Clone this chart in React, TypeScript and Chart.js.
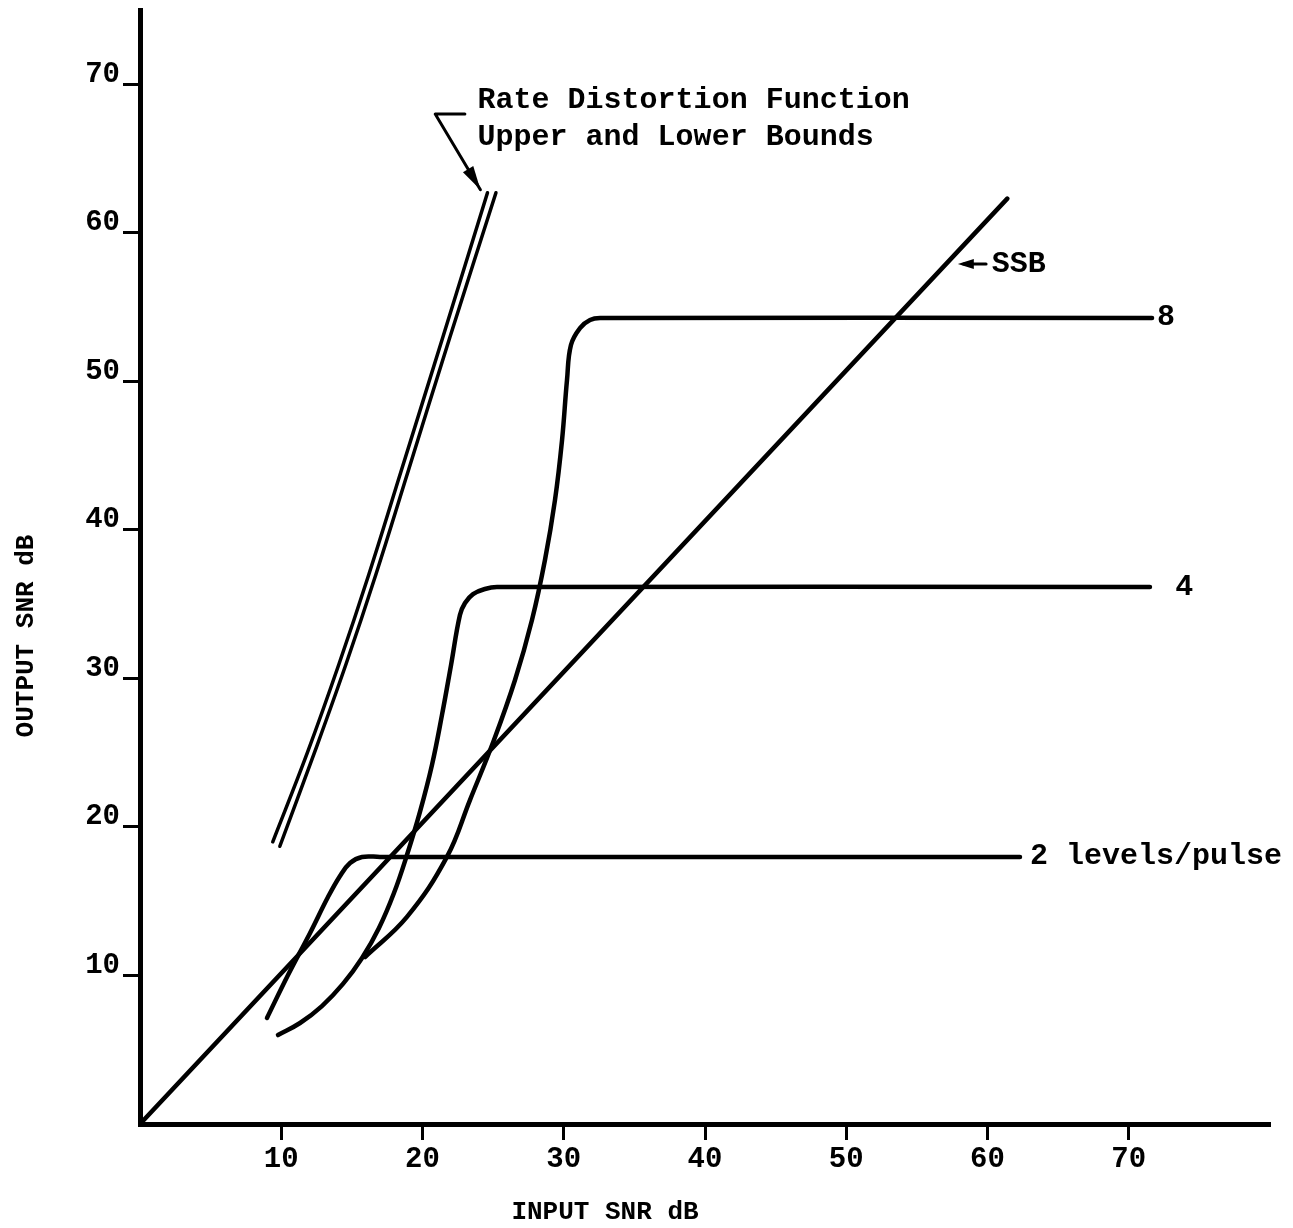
import React, { useEffect, useRef } from "react";
import { Chart, registerables } from "chart.js";

Chart.register(...registerables);

// ---------- axis ranges and ticks ----------
const X_MIN = 0;
const X_MAX = 80;
const Y_MIN = 0;
const Y_MAX = 75;
const xTickValues = [10, 20, 30, 40, 50, 60, 70];
const yTickValues = [10, 20, 30, 40, 50, 60, 70];

const xTitle = "INPUT SNR dB";
const yTitle = "OUTPUT SNR dB";

// ---------- series (input SNR dB -> output SNR dB) ----------
const ssbX = [0, 61.4];
const ssbY = [0, 62.3];

const rdUpperX = [9.4, 11.85, 14.1, 16.2, 18.5, 21.45, 24.6];
const rdUpperY = [19.0, 25.0, 31.0, 37.0, 44.0, 53.0, 62.7];

const rdLowerX = [9.9, 12.35, 14.6, 16.7, 19.0, 21.95, 25.2];
const rdLowerY = [18.7, 25.0, 31.0, 37.0, 44.0, 53.0, 62.7];

const lvl2X = [8.99, 10.48, 12.04, 13.31, 14.16, 14.87, 15.72, 16.99, 62.3];
const lvl2Y = [7.14, 10.03, 12.86, 15.28, 16.7, 17.57, 17.98, 17.98, 17.98];

const lvl4X = [9.77, 11.33, 12.88, 14.37, 15.72, 16.92, 17.98, 18.9, 19.82, 20.67, 21.38, 22.02, 22.65, 23.01, 23.58, 24.42, 25.27, 71.5];
const lvl4Y = [5.99, 6.8, 7.94, 9.43, 11.18, 13.2, 15.55, 18.11, 21.01, 24.17, 27.54, 30.9, 34.27, 35.08, 35.68, 36.02, 36.15, 36.15];

const lvl8X = [15.93, 18.9, 21.73, 23.36, 25.06, 26.55, 27.75, 28.67, 29.38, 29.88, 30.23, 30.51, 31.15, 31.86, 32.57, 71.65];
const lvl8Y = [11.24, 13.94, 17.98, 21.81, 25.85, 29.89, 33.93, 37.97, 42.01, 46.05, 50.09, 52.45, 53.59, 54.13, 54.26, 54.26];

// ---------- annotation texts ----------
const rdNote = ["Rate Distortion Function", "Upper and Lower Bounds"];
const ssbNote = "SSB";
const curveLabels = ["8", "4", "2 levels/pulse"];

const pts = (xs: number[], ys: number[]) => xs.map((x, i) => ({ x, y: ys[i] }));

const FONT = '"Liberation Mono", "Courier New", monospace';

function arrowHead(ctx: CanvasRenderingContext2D, tx: number, ty: number, fx: number, fy: number, len: number, hw: number) {
  const a = Math.atan2(ty - fy, tx - fx);
  const bx = tx - len * Math.cos(a);
  const by = ty - len * Math.sin(a);
  ctx.beginPath();
  ctx.moveTo(tx, ty);
  ctx.lineTo(bx + hw * Math.sin(a), by - hw * Math.cos(a));
  ctx.lineTo(bx - hw * Math.sin(a), by + hw * Math.cos(a));
  ctx.closePath();
  ctx.fill();
}

const annotationPlugin = {
  id: "annotations",
  afterDraw(chart: any) {
    const ctx: CanvasRenderingContext2D = chart.ctx;
    const xs = chart.scales.x;
    const ys = chart.scales.y;
    const px = (v: number) => xs.getPixelForValue(v);
    const py = (v: number) => ys.getPixelForValue(v);
    ctx.save();
    ctx.fillStyle = "#000";
    ctx.strokeStyle = "#000";
    ctx.lineCap = "round";
    ctx.lineJoin = "round";

    // Rate distortion note + leader arrow
    ctx.font = `bold 30px ${FONT}`;
    ctx.textAlign = "left";
    ctx.textBaseline = "middle";
    ctx.fillText(rdNote[0], px(23.9), py(68.9));
    ctx.fillText(rdNote[1], px(23.9), py(66.45));
    ctx.lineWidth = 3;
    ctx.beginPath();
    ctx.moveTo(px(23.0), py(68.0));
    ctx.lineTo(px(20.9), py(68.0));
    ctx.lineTo(px(24.1), py(62.9));
    ctx.stroke();
    arrowHead(ctx, px(24.1), py(62.9), px(20.9), py(68.0), 24, 6);

    // SSB note + arrow
    ctx.beginPath();
    ctx.moveTo(px(59.9), py(57.9));
    ctx.lineTo(px(58.3), py(57.9));
    ctx.stroke();
    arrowHead(ctx, px(57.9), py(57.9), px(59.9), py(57.9), 16, 5);
    ctx.fillText(ssbNote, px(60.3), py(57.9));

    // curve labels
    ctx.fillText(curveLabels[0], px(72.0), py(54.3));
    ctx.fillText(curveLabels[1], px(73.3), py(36.1));
    ctx.fillText(curveLabels[2], px(63.0), py(18.0));

    // axis titles
    ctx.font = `bold 26px ${FONT}`;
    ctx.textAlign = "center";
    ctx.fillText(xTitle, 605, 1212);
    ctx.save();
    ctx.translate(26, 636);
    ctx.rotate(-Math.PI / 2);
    ctx.fillText(yTitle, 0, 0);
    ctx.restore();

    ctx.restore();
  },
};

export default function App() {
  const ref = useRef<HTMLCanvasElement>(null);
  useEffect(() => {
    if (!ref.current) return;
    const curve = (data: { x: number; y: number }[], width: number, tension: number) => ({
      data,
      borderColor: "#000",
      backgroundColor: "#000",
      borderWidth: width,
      pointRadius: 0,
      fill: false,
      cubicInterpolationMode: "default" as const,
      tension,
      borderCapStyle: "round" as const,
      borderJoinStyle: "round" as const,
    });
    const chart = new Chart(ref.current, {
      type: "line",
      data: {
        datasets: [
          { label: "SSB", ...curve(pts(ssbX, ssbY), 4.5, 0) },
          { label: "RD upper", ...curve(pts(rdUpperX, rdUpperY), 3.5, 0.4) },
          { label: "RD lower", ...curve(pts(rdLowerX, rdLowerY), 3.5, 0.4) },
          { label: "2 levels/pulse", ...curve(pts(lvl2X, lvl2Y), 4.5, 0.4) },
          { label: "4", ...curve(pts(lvl4X, lvl4Y), 4.5, 0.4) },
          { label: "8", ...curve(pts(lvl8X, lvl8Y), 4.5, 0.4) },
        ],
      },
      options: {
        animation: false,
        responsive: false,
        devicePixelRatio: 1,
        layout: { padding: { left: 0, top: 10, right: 23, bottom: 0 } },
        plugins: { legend: { display: false }, tooltip: { enabled: false } },
        scales: {
          x: {
            type: "linear",
            min: X_MIN,
            max: X_MAX,
            afterBuildTicks: (s: any) => {
              s.ticks = xTickValues.map((v) => ({ value: v }));
            },
            afterFit: (s: any) => {
              s.height = 104;
              s.paddingLeft = 0;
              s.paddingRight = 0;
            },
            border: { display: true, color: "#000", width: 5 },
            grid: { drawOnChartArea: false, drawTicks: true, tickLength: 16, tickWidth: 3, color: "#000" },
            ticks: {
              color: "#000",
              font: { family: FONT, size: 29, weight: "bold" },
              padding: 2,
              maxRotation: 0,
              autoSkip: false,
            },
          },
          y: {
            type: "linear",
            min: Y_MIN,
            max: Y_MAX,
            afterBuildTicks: (s: any) => {
              s.ticks = yTickValues.map((v) => ({ value: v }));
            },
            afterFit: (s: any) => {
              s.width = 140;
              s.paddingTop = 0;
              s.paddingBottom = 0;
            },
            border: { display: true, color: "#000", width: 5 },
            grid: { drawOnChartArea: false, drawTicks: true, tickLength: 17, tickWidth: 3, color: "#000" },
            ticks: {
              color: "#000",
              font: { family: FONT, size: 29, weight: "bold" },
              padding: 3,
              labelOffset: -10,
              autoSkip: false,
            },
          },
        },
      },
      plugins: [annotationPlugin],
    } as any);
    return () => chart.destroy();
  }, []);
  return (
    <div style={{ position: "fixed", left: 0, top: 0, width: 1293, height: 1228, background: "#fff" }}>
      <canvas ref={ref} width={1293} height={1228} style={{ display: "block", width: 1293, height: 1228 }} />
    </div>
  );
}
